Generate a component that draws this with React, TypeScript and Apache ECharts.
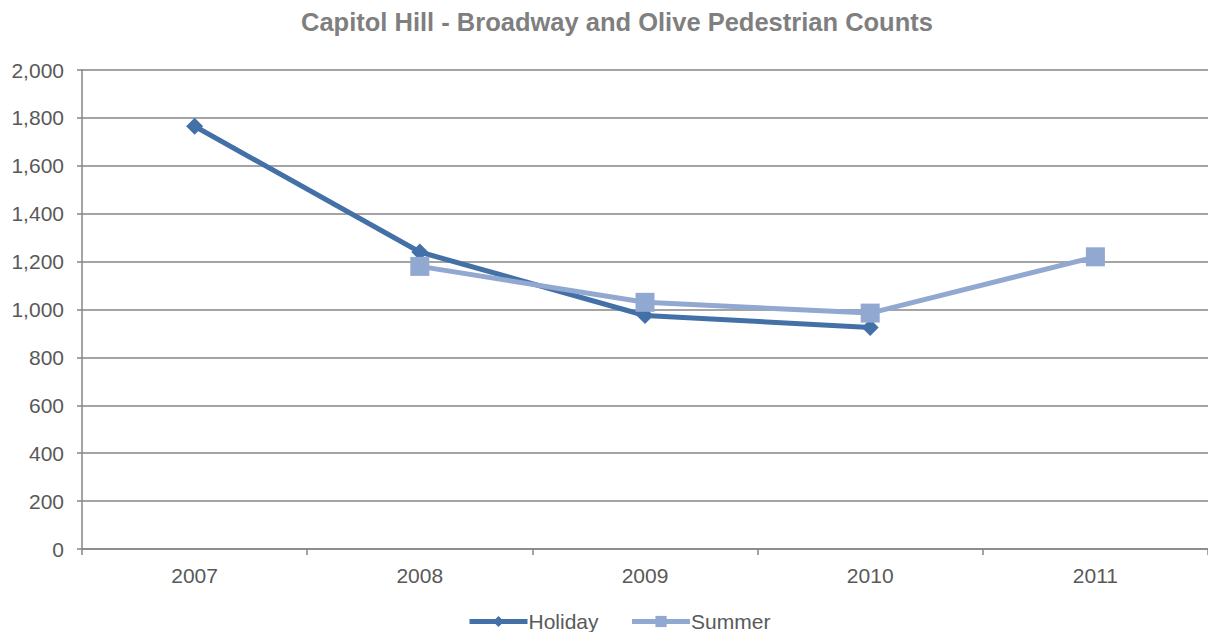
import React, { useEffect, useRef } from "react";
import * as echarts from "echarts";

const years = ["2007", "2008", "2009", "2010", "2011"];
const holiday = [1765, 1240, 975, 925, null];
const summer = [null, 1180, 1030, 985, 1220];
const yTicks = { min: 0, max: 2000, interval: 200 };

const TEXT = "#595959";
const GRID = "#868686";
const C1 = "#4470A8";
const C2 = "#91A8D0";

export default function App() {
  const ref = useRef<HTMLDivElement>(null);
  useEffect(() => {
    const chart = echarts.init(ref.current!, null, { renderer: "svg" });
    chart.setOption({
      animation: false,
      textStyle: { fontFamily: "Liberation Sans, Arial, sans-serif" },
      title: {
        text: "Capitol Hill - Broadway and Olive Pedestrian Counts",
        left: 296,
        top: 4,
        textStyle: { fontSize: 25.5, fontWeight: "bold", color: "#7f7f7f" },
      },
      grid: { left: 82, width: 1130, top: 70, bottom: 83 },
      legend: {
        bottom: -5,
        left: 462,
        itemWidth: 58,
        itemHeight: 14,
        itemGap: 31,
        textStyle: { fontSize: 21, color: TEXT, padding: [0, 0, 0, -4] },
        lineStyle: { width: 5 },
        data: ["Holiday", "Summer"],
      },
      xAxis: {
        type: "category",
        data: years,
        boundaryGap: true,
        axisLine: { lineStyle: { color: GRID, width: 1.5 } },
        axisTick: { show: true, length: 6, lineStyle: { color: GRID, width: 1.5 } },
        axisLabel: { fontSize: 21, color: TEXT, margin: 16 },
      },
      yAxis: {
        type: "value",
        min: yTicks.min,
        max: yTicks.max,
        interval: yTicks.interval,
        axisLine: { show: true, lineStyle: { color: GRID, width: 1.5 } },
        axisTick: { show: true, length: 5, lineStyle: { color: GRID, width: 1.5 } },
        axisLabel: {
          fontSize: 21,
          color: TEXT,
          margin: 18,
          formatter: (v: number) => v.toLocaleString("en-US"),
        },
        splitLine: { show: true, lineStyle: { color: GRID, width: 1.5 } },
      },
      series: [
        {
          name: "Holiday",
          type: "line",
          data: holiday,
          symbol: "diamond",
          symbolSize: 17,
          lineStyle: { width: 5, color: C1 },
          itemStyle: { color: C1 },
        },
        {
          name: "Summer",
          type: "line",
          data: summer,
          symbol: "rect",
          symbolSize: 19,
          lineStyle: { width: 5, color: C2 },
          itemStyle: { color: C2 },
        },
      ],
    });
    return () => chart.dispose();
  }, []);
  return (
    <div
      ref={ref}
      style={{ position: "fixed", left: 0, top: 0, width: 1208, height: 632, background: "#fff" }}
    />
  );
}
